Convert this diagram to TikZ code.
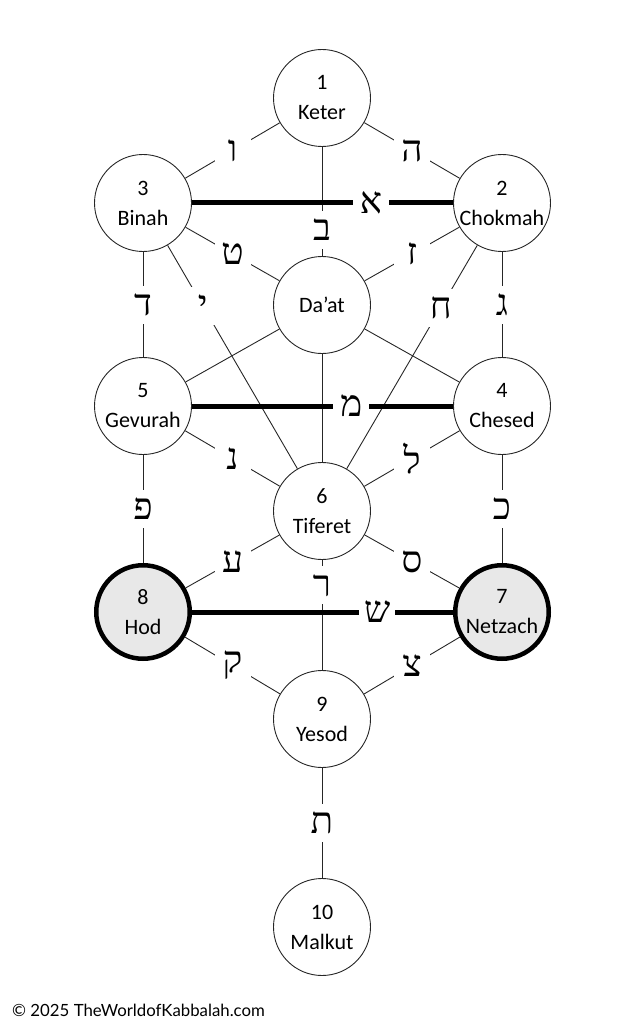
\documentclass[tikz,border=0pt]{standalone}
\usepackage{fontspec}
\setmainfont{Carlito}
\newfontfamily\hebfont[Script=Hebrew]{Liberation Serif}
\newfontfamily\footfont{Lato}
\begin{document}
\begin{tikzpicture}[x=1pt,y=-1pt,
  sef/.style={circle, draw=black!85, line width=0.9pt, fill=white, minimum size=97pt,
    inner sep=0pt, align=center, font=\fontsize{22}{30}\selectfont},
  sefb/.style={sef, line width=4.5pt, draw=black, fill=black!9, minimum size=93.5pt},
  conn/.style={draw=black!85, line width=0.9pt},
  thickconn/.style={draw=black, line width=5pt},
  heb/.style={fill=white, font=\hebfont\fontsize{37}{37}\selectfont, inner sep=0pt,
    minimum width=36pt, minimum height=38pt}]
\useasboundingbox (0,0) rectangle (633,1024);
\node[sef]  (keter)   at (322,98)  {1\\Keter};
\node[sef]  (binah)   at (143,203) {3\\Binah};
\node[sef]  (chokmah) at (502,203) {2\\Chokmah};
\node[sef]  (daat)    at (322,305) {Da’at};
\node[sef]  (gevurah) at (143,406) {5\\Gevurah};
\node[sef]  (chesed)  at (502,406) {4\\Chesed};
\node[sef]  (tiferet) at (322,511) {6\\Tiferet};
\node[sefb] (hod)     at (143,612) {8\\Hod};
\node[sefb] (netzach) at (502,612) {7\\Netzach};
\node[sef]  (yesod)   at (322,719) {9\\Yesod};
\node[sef]  (malkut)  at (322,927) {10\\Malkut};

\draw[conn] (keter) -- node[heb] (l-vav) {ו} (binah);
\draw[conn] (keter) -- node[heb] (l-he) {ה} (chokmah);
\draw[conn] (keter) -- node[heb,pos=.76] (l-bet) {ב} (daat);
\draw[conn] (binah) -- node[heb] (l-tet) {ט} (daat);
\draw[conn] (chokmah) -- node[heb] (l-zayin) {ז} (daat);
\draw[conn] (binah) -- node[heb,pos=.27] (l-yod) {י} (tiferet);
\draw[conn] (chokmah) -- node[heb,pos=.28] (l-chet) {ח} (tiferet);
\draw[conn] (binah) -- node[heb] (l-dalet) {ד} (gevurah);
\draw[conn] (chokmah) -- node[heb] (l-gimel) {ג} (chesed);
\draw[conn] (daat) -- (gevurah);
\draw[conn] (daat) -- (chesed);
\draw[conn] (daat) -- (tiferet);
\draw[conn] (gevurah) -- node[heb] (l-nun) {נ} (tiferet);
\draw[conn] (chesed) -- node[heb] (l-lamed) {ל} (tiferet);
\draw[conn] (gevurah) -- node[heb] (l-pe) {פ} (hod);
\draw[conn] (chesed) -- node[heb] (l-kaf) {כ} (netzach);
\draw[conn] (hod) -- node[heb] (l-ayin) {ע} (tiferet);
\draw[conn] (netzach) -- node[heb] (l-samekh) {ס} (tiferet);
\draw[conn] (tiferet) -- node[heb,pos=.23] (l-resh) {ר} (yesod);
\draw[conn] (hod) -- node[heb] (l-qof) {ק} (yesod);
\draw[conn] (netzach) -- node[heb] (l-tsadi) {צ} (yesod);
\draw[conn] (yesod) -- node[heb] (l-tav) {ת} (malkut);
\draw[thickconn] (binah) -- node[heb,pos=.686] (l-alef) {א} (chokmah);
\draw[thickconn] (gevurah) -- node[heb,pos=.61] (l-mem) {מ} (chesed);
\draw[thickconn] (hod) -- node[heb,pos=.71] (l-shin) {ש} (netzach);

\node[anchor=base west, font=\footfont\fontsize{16.8}{16.8}\selectfont, inner sep=0pt] (copy) at (12,1016) {© 2025 TheWorldofKabbalah.com};
\end{tikzpicture}
\end{document}
